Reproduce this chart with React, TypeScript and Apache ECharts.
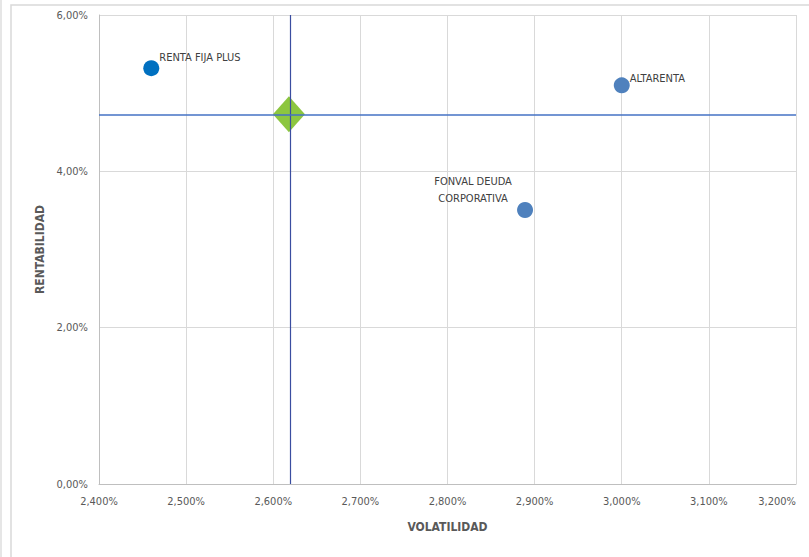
import React, { useEffect, useRef } from "react";
import * as echarts from "echarts";

const fundNames = ["RENTA FIJA PLUS", "ALTARENTA", "FONVAL DEUDA\nCORPORATIVA"];
const volatility = [2.46, 3.0, 2.889];
const returns = [5.32, 5.1, 3.505];
const fundColors = ["#0070C0", "#4F81BD", "#4F81BD"];
const benchmarkVol = 2.618;
const benchmarkRet = 4.73;
const xTicks = { min: 2.4, max: 3.2, interval: 0.1 };
const yTicks = { min: 0, max: 6, interval: 2 };

const FONT = "'Liberation Sans Narrow', 'DejaVu Sans Condensed', Arial, sans-serif";

export default function App() {
  const ref = useRef<HTMLDivElement>(null);
  useEffect(() => {
    if (!ref.current) return;
    const chart = echarts.init(ref.current, undefined, { renderer: "svg" });
    const labelPos: any[] = [
      { position: "right", distance: 0, offset: [0, -11] },
      { position: "right", distance: 0, offset: [0, -7] },
      { position: [-44, -12], align: "center", verticalAlign: "middle", lineHeight: 17 },
    ];
    const fundData = fundNames.map((n, i) => ({
      name: n,
      value: [volatility[i], returns[i]],
      itemStyle: { color: fundColors[i], opacity: 1 },
      label: { show: true, formatter: n, color: "#404040", fontSize: 11, fontFamily: FONT, ...labelPos[i] },
    }));
    chart.setOption({
      animation: false,
      backgroundColor: "#ffffff",
      textStyle: { fontFamily: FONT },
      grid: { left: 99, top: 15, right: 13, bottom: 73, containLabel: false, outerBoundsMode: "none" },
      graphic: [
        { type: "rect", shape: { x: 11, y: 5, width: 820, height: 570 }, style: { fill: "none", stroke: "#D9D9D9", lineWidth: 1.5 }, silent: true, z: -1 },
        { type: "rect", shape: { x: 0, y: 0, width: 2, height: 557 }, style: { fill: "#E6E6E6" }, silent: true, z: -1 },
      ],
      xAxis: {
        type: "value",
        min: xTicks.min,
        max: xTicks.max,
        interval: xTicks.interval,
        name: "VOLATILIDAD",
        nameLocation: "middle",
        nameGap: 37,
        nameTextStyle: { fontWeight: "bold", color: "#595959", fontSize: 12, fontFamily: FONT },
        axisLine: { show: true, lineStyle: { color: "#BFBFBF" } },
        axisTick: { show: false },
        splitLine: { show: true, lineStyle: { color: "#D9D9D9" } },
        axisLabel: {
          color: "#595959",
          fontSize: 11,
          margin: 12,
          fontFamily: FONT,
          alignMaxLabel: "right",
          formatter: (v: number) => v.toFixed(3).replace(".", ",") + "%",
        },
      },
      yAxis: {
        type: "value",
        min: yTicks.min,
        max: yTicks.max,
        interval: yTicks.interval,
        name: "RENTABILIDAD",
        nameLocation: "middle",
        nameGap: 50,
        nameRotate: 90,
        nameTextStyle: { fontWeight: "bold", color: "#595959", fontSize: 12, fontFamily: FONT },
        axisLine: { show: true, lineStyle: { color: "#BFBFBF" } },
        axisTick: { show: false },
        splitLine: { show: true, lineStyle: { color: "#D9D9D9" } },
        axisLabel: {
          color: "#595959",
          fontSize: 11,
          margin: 11,
          fontFamily: FONT,
          formatter: (v: number) => v.toFixed(2).replace(".", ",") + "%",
        },
      },
      series: [
        {
          type: "scatter",
          symbol: "diamond",
          symbolSize: [32, 36],
          itemStyle: { color: "#8CC63F", opacity: 1 },
          data: [[benchmarkVol, benchmarkRet]],
          z: 3,
          markLine: {
            silent: true,
            symbol: "none",
            label: { show: false },
            data: [
              { xAxis: benchmarkVol, lineStyle: { color: "#3A4DA0", width: 1.2, type: "solid" } },
              { yAxis: benchmarkRet, lineStyle: { color: "#4472C4", width: 1.5, type: "solid" } },
            ],
          },
        },
        {
          type: "scatter",
          symbol: "circle",
          symbolSize: 16,
          data: fundData,
          z: 4,
        },
      ],
    });
    return () => chart.dispose();
  }, []);
  return <div ref={ref} style={{ position: "absolute", left: 0, top: 0, width: 809, height: 557 }} />;
}
